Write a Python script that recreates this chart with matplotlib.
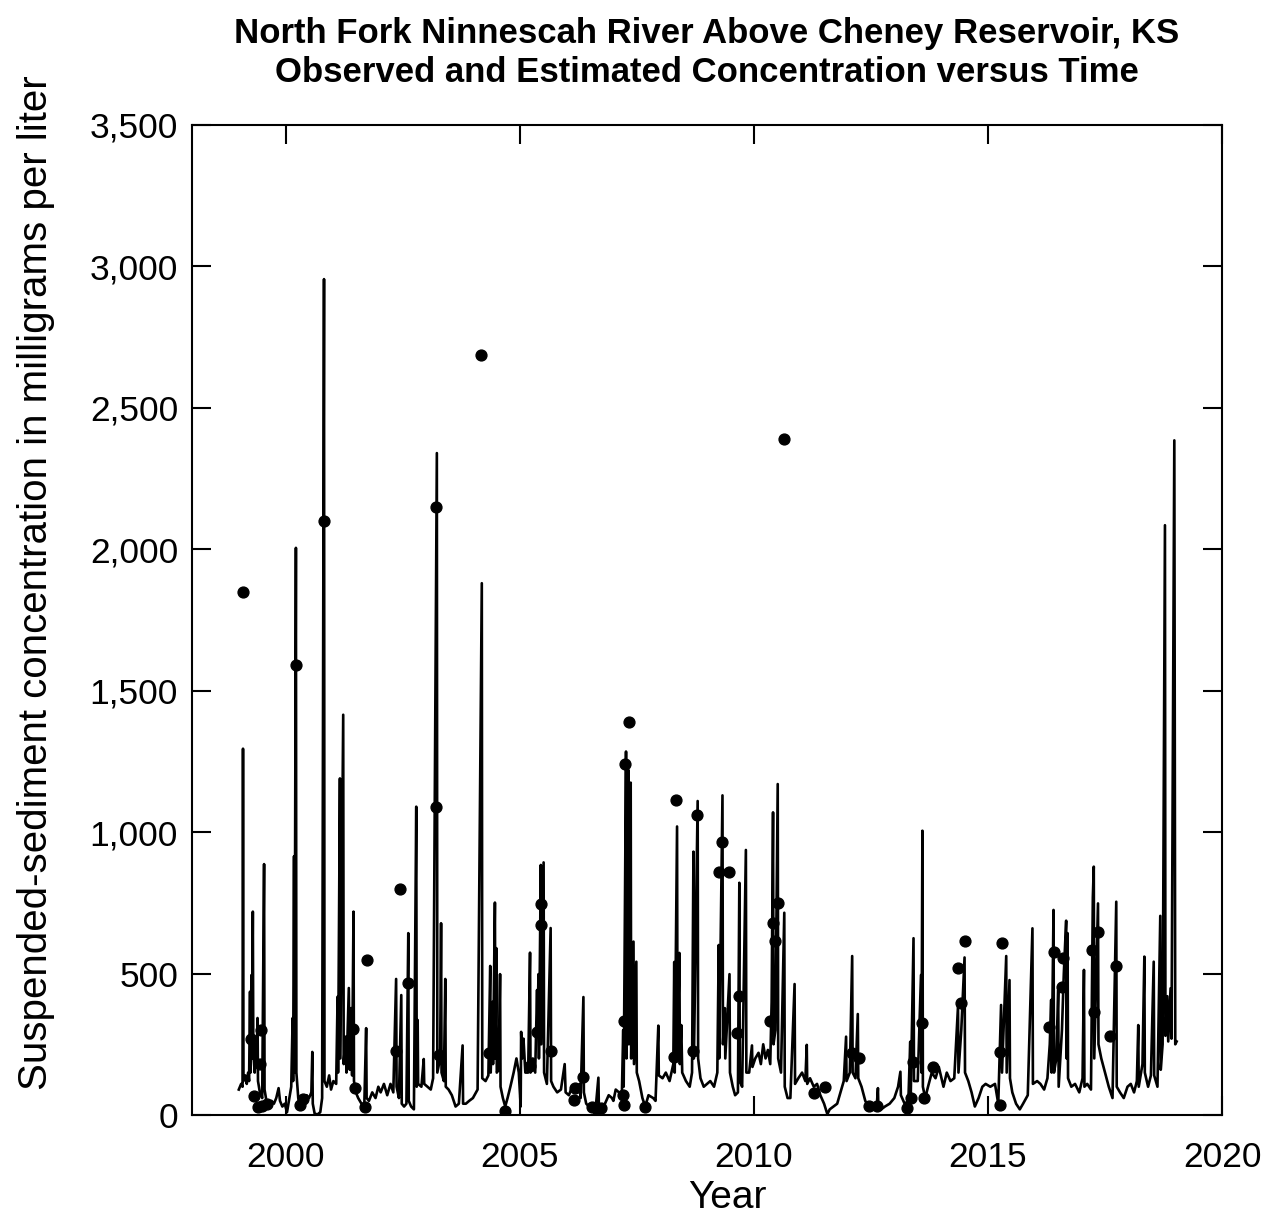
import numpy as np
import matplotlib
matplotlib.use("Agg")
import matplotlib.pyplot as plt
from matplotlib.ticker import FuncFormatter, MultipleLocator

plt.rcParams['font.family'] = ['Liberation Sans', 'DejaVu Sans']

# Daily estimated concentration (decimal year, mg/L)
est_year = [
    1999.00, 1999.05, 1999.08, 1999.09, 1999.10, 1999.14, 1999.17, 1999.20, 1999.22, 1999.24,
    1999.25, 1999.27, 1999.28, 1999.30, 1999.31, 1999.34, 1999.36, 1999.38, 1999.40, 1999.41,
    1999.45, 1999.50, 1999.54, 1999.55, 1999.60, 1999.65, 1999.70, 1999.75, 1999.80, 1999.85,
    1999.88, 1999.93, 1999.98,
    2000.03, 2000.08, 2000.12, 2000.15, 2000.16, 2000.18, 2000.19, 2000.22, 2000.23, 2000.27,
    2000.31, 2000.36, 2000.40, 2000.45, 2000.50, 2000.55, 2000.57, 2000.58, 2000.62, 2000.68,
    2000.74, 2000.78, 2000.82, 2000.83, 2000.88, 2000.93, 2000.97,
    2001.02, 2001.08, 2001.11, 2001.12, 2001.16, 2001.17, 2001.23, 2001.24, 2001.28, 2001.30,
    2001.35, 2001.37, 2001.40, 2001.42, 2001.45, 2001.46, 2001.50, 2001.55, 2001.62, 2001.68,
    2001.72, 2001.73, 2001.78, 2001.85, 2001.92, 2001.98,
    2002.03, 2002.10, 2002.17, 2002.24, 2002.30, 2002.36, 2002.37, 2002.42, 2002.47, 2002.48,
    2002.53, 2002.58, 2002.62, 2002.63, 2002.68, 2002.74, 2002.79, 2002.80, 2002.82, 2002.83,
    2002.90, 2002.95, 2002.96,
    2003.03, 2003.10, 2003.15, 2003.23, 2003.24, 2003.30, 2003.32, 2003.33, 2003.38, 2003.41,
    2003.42, 2003.48, 2003.55, 2003.63, 2003.70, 2003.78, 2003.79, 2003.85, 2003.92,
    2004.00, 2004.10, 2004.19, 2004.20, 2004.27, 2004.33, 2004.37, 2004.38, 2004.42, 2004.43,
    2004.47, 2004.48, 2004.50, 2004.51, 2004.55, 2004.58, 2004.59, 2004.64, 2004.69, 2004.74,
    2004.80, 2004.87, 2004.93, 2004.98,
    2005.02, 2005.03, 2005.05, 2005.08, 2005.12, 2005.18, 2005.22, 2005.23, 2005.28, 2005.33,
    2005.37, 2005.38, 2005.40, 2005.41, 2005.45, 2005.46, 2005.51, 2005.52, 2005.58, 2005.66,
    2005.67, 2005.72, 2005.80, 2005.88, 2005.96, 2005.98,
    2006.05, 2006.12, 2006.20, 2006.28, 2006.30, 2006.36, 2006.37, 2006.42, 2006.48, 2006.55,
    2006.62, 2006.68, 2006.69, 2006.76, 2006.82, 2006.90, 2006.97,
    2007.00, 2007.05, 2007.12, 2007.18, 2007.21, 2007.22, 2007.27, 2007.28, 2007.32, 2007.33,
    2007.37, 2007.38, 2007.43, 2007.44, 2007.49, 2007.50, 2007.55, 2007.62, 2007.68, 2007.75,
    2007.85, 2007.90, 2007.96, 2007.97,
    2008.05, 2008.12, 2008.20, 2008.28, 2008.30, 2008.31, 2008.36, 2008.37, 2008.41, 2008.42,
    2008.45, 2008.47, 2008.55, 2008.63, 2008.68, 2008.71, 2008.72, 2008.80, 2008.81, 2008.86,
    2008.93,
    2009.00, 2009.07, 2009.15, 2009.22, 2009.25, 2009.26, 2009.33, 2009.34, 2009.38, 2009.39,
    2009.48, 2009.49, 2009.55, 2009.60, 2009.66, 2009.69, 2009.70, 2009.75, 2009.83, 2009.84,
    2009.90, 2009.96, 2009.97,
    2010.03, 2010.10, 2010.15, 2010.20, 2010.25, 2010.30, 2010.35, 2010.38, 2010.41, 2010.42,
    2010.46, 2010.51, 2010.52, 2010.58, 2010.65, 2010.66, 2010.72, 2010.78, 2010.87, 2010.88,
    2010.95,
    2011.03, 2011.10, 2011.13, 2011.14, 2011.20, 2011.28, 2011.35, 2011.42, 2011.50, 2011.57,
    2011.62, 2011.70, 2011.78, 2011.85, 2011.92, 2011.97, 2011.98,
    2012.05, 2012.10, 2012.11, 2012.17, 2012.22, 2012.23, 2012.30, 2012.38, 2012.45, 2012.55,
    2012.62, 2012.65, 2012.66, 2012.72, 2012.80, 2012.90,
    2013.00, 2013.08, 2013.13, 2013.14, 2013.22, 2013.30, 2013.34, 2013.35, 2013.41, 2013.42,
    2013.50, 2013.57, 2013.58, 2013.60, 2013.61, 2013.66, 2013.72, 2013.80, 2013.88, 2013.95,
    2014.05, 2014.12, 2014.20, 2014.28, 2014.36, 2014.37, 2014.43, 2014.50, 2014.51, 2014.58,
    2014.65, 2014.72, 2014.80, 2014.88, 2014.95,
    2015.05, 2015.15, 2015.22, 2015.28, 2015.30, 2015.39, 2015.40, 2015.46, 2015.47, 2015.52,
    2015.60, 2015.68, 2015.75, 2015.85, 2015.95, 2015.96,
    2016.05, 2016.12, 2016.20, 2016.27, 2016.32, 2016.35, 2016.36, 2016.40, 2016.41, 2016.46,
    2016.50, 2016.51, 2016.58, 2016.62, 2016.67, 2016.68, 2016.70, 2016.71, 2016.78, 2016.86,
    2016.95,
    2017.02, 2017.05, 2017.06, 2017.12, 2017.20, 2017.24, 2017.26, 2017.27, 2017.35, 2017.36,
    2017.42, 2017.50, 2017.58, 2017.66, 2017.74, 2017.75, 2017.82, 2017.90, 2017.98,
    2018.05, 2018.12, 2018.18, 2018.21, 2018.22, 2018.30, 2018.34, 2018.35, 2018.42, 2018.48,
    2018.54, 2018.55, 2018.62, 2018.68, 2018.69, 2018.73, 2018.78, 2018.79, 2018.83, 2018.85,
    2018.90, 2018.92, 2018.98, 2019.00, 2019.03,
]
est_conc = [
    90, 110, 100, 1295, 120, 140, 110, 150, 120, 436,
    150, 495, 200, 719, 220, 150, 250, 180, 343, 120,
    80, 60, 887, 90, 40, 30, 50, 40, 60, 95,
    50, 30, 40,
    10, 60, 100, 343, 120, 915, 150, 2005, 150, 60,
    40, 60, 50, 70, 60, 80, 223, 40, 5, 2,
    10, 60, 2955, 120, 100, 140, 90,
    120, 110, 418, 150, 1190, 200, 1415, 180, 277, 150,
    449, 160, 378, 140, 719, 120, 80, 60, 40, 30,
    307, 60, 50, 80, 60, 100,
    80, 110, 70, 110, 80, 481, 100, 60, 424, 40,
    30, 40, 643, 50, 30, 20, 1090, 100, 336, 110,
    100, 198, 110,
    100, 90, 130, 2340, 150, 200, 678, 150, 120, 481,
    100, 90, 70, 30, 40, 246, 40, 40, 50,
    60, 90, 1880, 130, 120, 140, 527, 150, 400, 180,
    751, 200, 590, 150, 160, 498, 100, 60, 30, 60,
    100, 150, 200, 150,
    30, 294, 200, 270, 150, 150, 574, 150, 200, 150,
    442, 300, 498, 200, 884, 250, 893, 150, 110, 661,
    120, 100, 80, 90, 180, 80,
    70, 100, 90, 110, 60, 417, 80, 40, 30, 40,
    20, 132, 30, 10, 40, 70, 60,
    50, 90, 80, 60, 300, 100, 1285, 200, 1220, 250,
    1175, 200, 613, 180, 542, 150, 120, 60, 30, 70,
    60, 50, 316, 140,
    130, 150, 120, 180, 541, 150, 1020, 200, 573, 180,
    318, 150, 120, 100, 150, 931, 200, 1110, 200, 130,
    100,
    110, 120, 100, 150, 601, 200, 1130, 250, 378, 200,
    498, 150, 100, 70, 80, 821, 120, 100, 937, 150,
    150, 246, 170,
    200, 220, 180, 250, 200, 230, 180, 400, 1070, 250,
    300, 1170, 200, 150, 715, 100, 60, 60, 463, 110,
    130,
    150, 120, 248, 110, 130, 100, 110, 70, 40, 3,
    20, 30, 40, 80, 120, 277, 120,
    150, 562, 150, 130, 357, 130, 100, 50, 30, 25,
    20, 95, 20, 20, 30, 40,
    60, 100, 153, 70, 40, 50, 259, 60, 625, 120,
    120, 495, 150, 1005, 100, 60, 100, 150, 130, 170,
    100, 150, 120, 130, 383, 150, 300, 557, 150, 120,
    80, 30, 60, 100, 110,
    100, 110, 40, 389, 150, 562, 150, 477, 130, 80,
    40, 20, 40, 70, 660, 110,
    120, 110, 90, 130, 250, 407, 150, 725, 150, 200,
    442, 100, 300, 500, 687, 200, 643, 130, 100, 110,
    80,
    130, 513, 100, 110, 90, 770, 878, 200, 748, 250,
    200, 150, 100, 60, 754, 100, 80, 60, 100,
    110, 80, 120, 318, 100, 180, 560, 150, 100, 140,
    542, 140, 100, 704, 160, 250, 2085, 280, 420, 260,
    448, 270, 2385, 250, 260,
]

# Observed samples (decimal year, mg/L)
obs_year = [
    1999.09, 1999.26, 1999.32, 1999.40, 1999.45, 1999.47, 1999.50, 1999.60,
    2000.22, 2000.31, 2000.38, 2000.82,
    2001.44, 2001.48, 2001.70, 2001.74,
    2002.36, 2002.44, 2002.62,
    2003.21, 2003.21, 2003.28,
    2004.18, 2004.35, 2004.69,
    2005.22, 2005.37, 2005.45, 2005.45, 2005.66,
    2006.16, 2006.18, 2006.36, 2006.54, 2006.65, 2006.74,
    2007.20, 2007.22, 2007.22, 2007.25, 2007.34, 2007.68,
    2008.30, 2008.34, 2008.70, 2008.79,
    2009.25, 2009.33, 2009.46, 2009.64, 2009.69,
    2010.35, 2010.40, 2010.46, 2010.52, 2010.65,
    2011.28, 2011.51,
    2012.10, 2012.24, 2012.45, 2012.63,
    2013.27, 2013.36, 2013.40, 2013.59, 2013.63, 2013.83,
    2014.36, 2014.43, 2014.50,
    2015.26, 2015.26, 2015.30,
    2016.30, 2016.40, 2016.58, 2016.60,
    2017.22, 2017.26, 2017.35, 2017.60, 2017.74,
]
obs_conc = [
    1850, 268, 67, 30, 180, 300, 32, 38,
    1590, 35, 55, 2100,
    303, 95, 30, 548,
    226, 800, 466,
    2150, 1090, 212,
    2685, 218, 15,
    173, 295, 746, 672, 226,
    53, 95, 134, 30, 20, 25,
    70, 35, 332, 1240, 1390, 30,
    206, 1113, 227, 1060,
    858, 966, 858, 291, 420,
    332, 680, 616, 748, 2390,
    79, 100,
    218, 203, 33, 33,
    26, 60, 189, 326, 61, 171,
    521, 396, 615,
    35, 224, 609,
    310, 577, 454, 554,
    583, 365, 648, 280, 527,
]

x_ticks = [2000, 2005, 2010, 2015, 2020]

fig = plt.figure(figsize=(12.73, 12.19), dpi=100)
ax = fig.add_axes([0.1508, 0.0853, 0.8092, 0.8122])

ax.plot(est_year, est_conc, color="black", lw=1.9)
ax.plot(obs_year, obs_conc, "o", color="black", ms=7.8, mec="black")

ax.set_xlim(1998, 2020)
ax.set_ylim(0, 3500)
ax.set_xticks(x_ticks)
ax.yaxis.set_major_locator(MultipleLocator(500))
ax.yaxis.set_major_formatter(FuncFormatter(lambda v, p: f"{int(v):,}"))

for s in ax.spines.values():
    s.set_linewidth(1.5)
ax.tick_params(axis="both", direction="in", length=14, width=1.5,
               top=True, right=True, labelsize=25.5)
ax.tick_params(axis="x", pad=19)
ax.tick_params(axis="y", pad=10)

ax.set_title("North Fork Ninnescah River Above Cheney Reservoir, KS\n"
             "Observed and Estimated Concentration versus Time",
             fontsize=25, fontweight="bold", pad=31, linespacing=1.22)
ax.set_xlabel("Year", fontsize=28)
ax.xaxis.set_label_coords(0.520, -0.066)
ax.xaxis.label.set_va("top")
ax.set_ylabel("Suspended-sediment concentration in milligrams per liter", fontsize=29)
ax.yaxis.set_label_coords(-0.133, 0.538)

fig.savefig("out.png", dpi=100)
